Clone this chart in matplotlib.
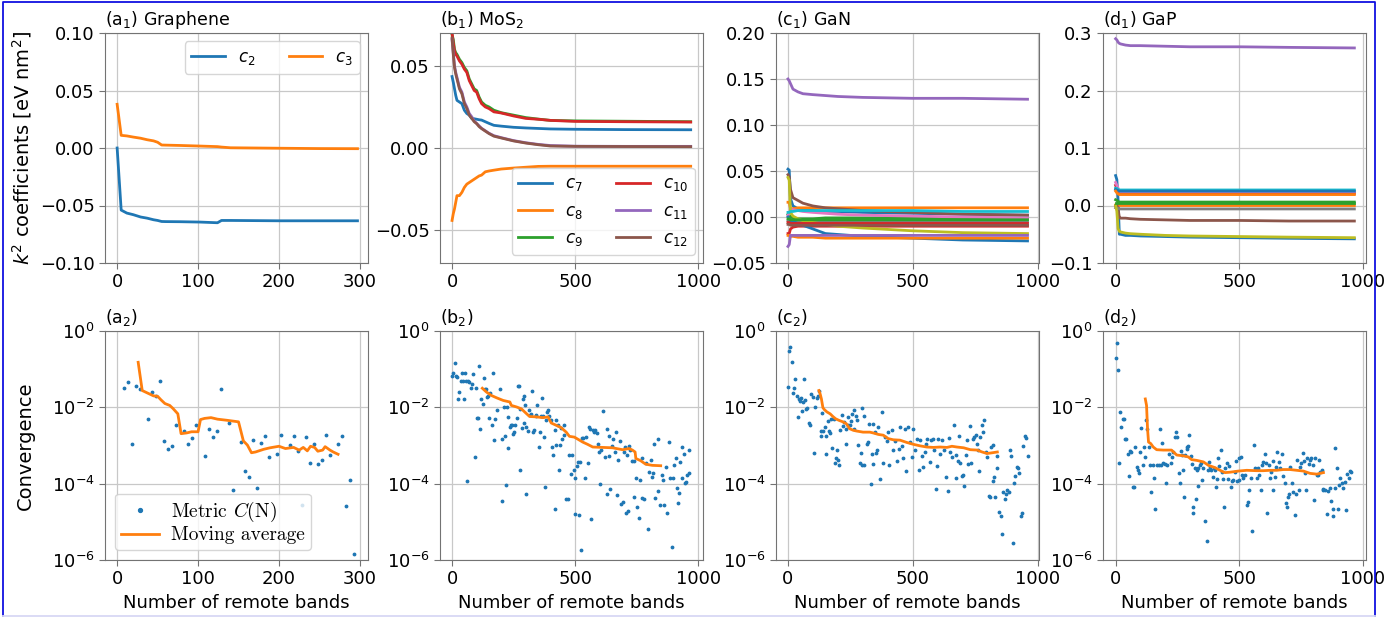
import matplotlib.pyplot as plt
import numpy as np
from matplotlib.font_manager import FontProperties
from matplotlib.lines import Line2D
from matplotlib.ticker import NullLocator

# ---------------- top row: k^2 coefficients ----------------
gr_n = [0, 5, 12, 20, 29, 37, 45, 50, 55, 60, 78, 102, 124, 129, 140, 200, 250, 297]
gr_c2 = [0.000, -0.054, -0.0566, -0.058, -0.060, -0.061, -0.0624, -0.063, -0.0639, -0.064,
         -0.0641, -0.0644, -0.065, -0.063, -0.063, -0.0633, -0.0633, -0.0633]
gr_c3 = [0.038, 0.011, 0.0105, 0.0095, 0.0085, 0.0072, 0.0062, 0.005, 0.0026, 0.0025,
         0.0022, 0.0017, 0.0012, 0.0008, 0.0002, -0.0002, -0.0005, -0.0006]

mos_n = [0, 5, 10, 15, 20, 30, 40, 50, 60, 70, 80, 90, 100, 110, 120, 135, 150, 170,
         200, 250, 300, 350, 400, 500, 700, 970]
mos_c7 = [0.0435, 0.040, 0.036, 0.032, 0.029, 0.028, 0.027, 0.023, 0.021, 0.020, 0.018,
          0.0178, 0.0175, 0.0172, 0.017, 0.016, 0.015, 0.0138, 0.0133, 0.0126, 0.0122,
          0.0119, 0.0116, 0.0114, 0.0112, 0.0111]
mos_c8 = [-0.0441, -0.040, -0.037, -0.033, -0.029, -0.029, -0.027, -0.024, -0.022, -0.021,
          -0.020, -0.019, -0.018, -0.017, -0.0165, -0.0145, -0.014, -0.0135, -0.0128,
          -0.0122, -0.0117, -0.0112, -0.0111, -0.0111, -0.0111, -0.0111]
mos_c9 = [0.069, 0.066, 0.060, 0.058, 0.057, 0.054, 0.052, 0.049, 0.047, 0.042, 0.039,
          0.036, 0.035, 0.031, 0.028, 0.026, 0.025, 0.023, 0.0215, 0.020, 0.0185, 0.0176,
          0.0168, 0.0165, 0.0163, 0.016]
mos_c10 = [0.070, 0.064, 0.059, 0.057, 0.056, 0.053, 0.051, 0.048, 0.046, 0.041, 0.038,
           0.035, 0.034, 0.030, 0.027, 0.025, 0.024, 0.022, 0.0213, 0.0195, 0.018, 0.0175,
           0.0168, 0.0162, 0.016, 0.0158]
mos_c11 = [0.066, 0.058, 0.050, 0.046, 0.043, 0.037, 0.034, 0.028, 0.025, 0.021, 0.019,
           0.0165, 0.015, 0.0135, 0.012, 0.0105, 0.009, 0.0075, 0.0063, 0.0045, 0.0032,
           0.0022, 0.0015, 0.0011, 0.001, 0.001]
mos_c12 = [0.067, 0.057, 0.049, 0.045, 0.042, 0.036, 0.033, 0.027, 0.024, 0.020, 0.018,
           0.016, 0.0148, 0.013, 0.0118, 0.0103, 0.0088, 0.0072, 0.0061, 0.0043, 0.003,
           0.002, 0.0012, 0.001, 0.0009, 0.0008]

gan_n = [0, 5, 10, 20, 40, 60, 100, 150, 200, 300, 500, 700, 960]
gan_coeffs = [
    [0.052, 0.051, 0.020, 0.012, 0.009, 0.008, 0.007, 0.006, 0.006, 0.005, 0.004, 0.003, 0.002],
    [0.016, 0.016, 0.009, 0.009, 0.010, 0.010, 0.010, 0.010, 0.010, 0.010, 0.010, 0.010, 0.010],
    [0.003, 0.002, 0.000, -0.001, -0.002, -0.002, -0.002, -0.001, -0.001, -0.001, -0.001, -0.001, -0.001],
    [-0.018, -0.018, -0.013, -0.011, -0.010, -0.010, -0.010, -0.010, -0.010, -0.010, -0.010, -0.010, -0.010],
    [0.150, 0.148, 0.145, 0.139, 0.136, 0.134, 0.133, 0.132, 0.131, 0.130, 0.129, 0.129, 0.128],
    [0.046, 0.044, 0.030, 0.021, 0.018, 0.015, 0.012, 0.010, 0.009, 0.007, 0.005, 0.003, 0.002],
    [0.002, 0.004, 0.008, 0.008, 0.007, 0.006, 0.005, 0.004, 0.003, 0.002, 0.001, 0.000, -0.001],
    [-0.004, -0.004, -0.005, -0.005, -0.005, -0.005, -0.005, -0.005, -0.005, -0.005, -0.005, -0.005, -0.005],
    [0.043, 0.040, 0.005, 0.001, -0.002, -0.004, -0.006, -0.008, -0.010, -0.012, -0.015, -0.017, -0.018],
    [0.005, 0.005, 0.006, 0.006, 0.007, 0.007, 0.007, 0.007, 0.007, 0.007, 0.007, 0.006, 0.006],
    [0.000, -0.002, -0.004, -0.005, -0.007, -0.009, -0.013, -0.018, -0.019, -0.021, -0.023, -0.025, -0.026],
    [-0.020, -0.020, -0.021, -0.021, -0.022, -0.022, -0.022, -0.023, -0.023, -0.023, -0.023, -0.023, -0.023],
    [-0.002, -0.002, -0.003, -0.003, -0.003, -0.003, -0.003, -0.003, -0.003, -0.003, -0.003, -0.003, -0.003],
    [-0.006, -0.006, -0.007, -0.007, -0.007, -0.007, -0.007, -0.007, -0.007, -0.007, -0.007, -0.007, -0.007],
    [-0.032, -0.030, -0.020, -0.020, -0.020, -0.020, -0.020, -0.020, -0.020, -0.020, -0.020, -0.020, -0.020],
    [-0.008, -0.008, -0.009, -0.009, -0.009, -0.009, -0.009, -0.009, -0.009, -0.009, -0.009, -0.009, -0.009],
]

gap_n = [0, 5, 10, 15, 20, 40, 60, 100, 200, 300, 500, 700, 965]
gap_coeffs = [
    [0.052, 0.045, 0.010, -0.050, -0.050, -0.052, -0.052, -0.053, -0.054, -0.055, -0.056, -0.057, -0.058],
    [0.001, 0.000, 0.000, 0.000, 0.000, 0.000, 0.000, 0.000, 0.000, 0.000, 0.000, 0.000, 0.000],
    [0.010, 0.009, 0.007, 0.006, 0.006, 0.006, 0.006, 0.006, 0.006, 0.006, 0.006, 0.006, 0.006],
    [0.035, 0.030, 0.025, 0.022, 0.021, 0.021, 0.021, 0.021, 0.021, 0.021, 0.021, 0.021, 0.021],
    [0.290, 0.288, 0.284, 0.282, 0.281, 0.279, 0.278, 0.278, 0.277, 0.276, 0.276, 0.275, 0.274],
    [0.000, 0.000, -0.005, -0.021, -0.022, -0.022, -0.023, -0.024, -0.025, -0.026, -0.026, -0.027, -0.027],
    [0.040, 0.035, 0.030, 0.025, 0.024, 0.024, 0.024, 0.024, 0.024, 0.024, 0.024, 0.024, 0.024],
    [-0.004, -0.005, -0.005, -0.006, -0.006, -0.006, -0.006, -0.006, -0.006, -0.006, -0.006, -0.006, -0.006],
    [0.000, -0.010, -0.040, -0.045, -0.046, -0.048, -0.049, -0.050, -0.052, -0.053, -0.054, -0.055, -0.056],
    [0.030, 0.030, 0.028, 0.027, 0.027, 0.027, 0.027, 0.027, 0.027, 0.027, 0.027, 0.027, 0.027],
    [0.028, 0.027, 0.026, 0.025, 0.025, 0.025, 0.025, 0.025, 0.025, 0.025, 0.025, 0.025, 0.025],
    [0.025, 0.022, 0.020, 0.019, 0.019, 0.019, 0.019, 0.019, 0.019, 0.019, 0.019, 0.019, 0.019],
    [0.004, 0.004, 0.004, 0.004, 0.004, 0.004, 0.004, 0.004, 0.004, 0.004, 0.004, 0.004, 0.004],
]

# ---------------- bottom row: convergence metric, (N, log10 C) ----------------
gr_conv = [(8, -1.49), (13, -1.34), (18, -2.95), (23, -1.43), (28, -1.51), (38, -2.31),
           (43, -1.60), (48, -1.70), (53, -1.30), (58, -2.89), (63, -3.10), (68, -3.01),
           (73, -2.47), (83, -2.62), (88, -2.95), (93, -2.80), (98, -2.47), (108, -3.28),
           (113, -2.58), (118, -2.78), (123, -2.62), (128, -1.53), (138, -2.41), (143, -4.17),
           (153, -2.92), (158, -3.67), (163, -3.82), (168, -2.85), (173, -4.12), (178, -2.94),
           (183, -2.74), (188, -3.30), (198, -3.22), (203, -2.72), (213, -2.99), (218, -2.76),
           (223, -3.14), (228, -4.56), (233, -2.78), (238, -3.45), (243, -2.95), (248, -3.49),
           (253, -3.37), (258, -2.72), (263, -3.26), (273, -2.97), (278, -2.75), (283, -4.58),
           (288, -3.90), (293, -5.83)]
gr_avg = [(26, -0.82), (31, -1.56), (39, -1.64), (45, -1.70), (50, -1.71), (54, -1.80),
          (59, -1.90), (65, -1.95), (69, -2.03), (75, -2.17), (79, -2.69), (86, -2.67),
          (92, -2.64), (100, -2.64), (103, -2.32), (108, -2.29), (116, -2.27), (124, -2.31),
          (136, -2.34), (150, -2.38), (156, -2.88), (161, -2.99), (166, -3.19), (171, -3.17),
          (181, -3.10), (189, -3.06), (200, -3.02), (208, -3.08), (218, -3.05), (225, -3.12),
          (230, -3.05), (235, -3.14), (239, -3.02), (244, -3.05), (248, -3.15), (254, -3.12),
          (257, -3.03), (263, -3.12), (267, -3.17), (273, -3.23)]

mos_conv = [(0, -1.17), (5, -1.10), (11, -0.84), (16, -1.18), (22, -1.21), (24, -1.78),
            (30, -1.60), (35, -1.32), (40, -1.11), (43, -1.30), (49, -1.78), (53, -1.11),
            (57, -1.30), (59, -3.92), (65, -1.31), (70, -1.34), (75, -1.49), (81, -1.40),
            (86, -1.12), (92, -3.30), (97, -1.49), (100, -2.27), (105, -2.27), (111, -0.93),
            (113, -2.58), (119, -1.78), (124, -1.91), (129, -1.24), (133, -1.53), (137, -1.51),
            (143, -1.73), (147, -1.71), (151, -2.27), (156, -1.62), (162, -2.45), (166, -1.10),
            (170, -2.86), (174, -2.30), (181, -2.08), (194, -1.53), (201, -4.46), (205, -2.82),
            (210, -1.99), (216, -2.76), (218, -4.04), (224, -1.98), (228, -2.25), (229, -3.06),
            (235, -2.52), (240, -2.45), (245, -2.47), (248, -2.69), (251, -2.64), (256, -2.47),
            (262, -2.27), (267, -1.45), (271, -1.45), (275, -3.63), (278, -2.04), (283, -2.53),
            (288, -1.79), (291, -1.69), (294, -2.41), (297, -1.93), (299, -4.28), (302, -2.52),
            (307, -2.63), (313, -2.06), (315, -2.21), (321, -2.18), (326, -1.58), (329, -2.64),
            (334, -2.60), (340, -2.24), (342, -2.21), (346, -1.93), (353, -3.05), (356, -2.65),
            (361, -2.24), (367, -1.75), (369, -2.24), (372, -2.78), (377, -4.10), (380, -2.32),
            (386, -2.12), (391, -2.08), (396, -2.24), (403, -2.34), (407, -3.04), (410, -3.25),
            (417, -4.66), (418, -2.60), (421, -2.32), (423, -2.99), (430, -2.45), (434, -3.63),
            (437, -2.99), (442, -2.53), (448, -2.82), (453, -2.72), (457, -2.46), (464, -4.39),
            (470, -4.39), (477, -3.25), (484, -3.75), (489, -3.25), (495, -3.65), (500, -3.86),
            (501, -4.79), (507, -3.54), (512, -3.42), (518, -4.83), (520, -3.43), (523, -5.73),
            (528, -2.80), (534, -2.81), (539, -3.84), (545, -2.78), (553, -3.45), (555, -2.52),
            (561, -2.58), (566, -4.92), (572, -2.60), (576, -2.65), (582, -2.60), (588, -2.66),
            (593, -2.95), (599, -3.17), (601, -4.01), (607, -3.12), (612, -2.10), (623, -3.30),
            (628, -2.57), (631, -4.28), (636, -3.28), (639, -2.76), (644, -4.14), (650, -3.02),
            (655, -2.82), (661, -3.17), (666, -2.65), (669, -4.30), (674, -3.39), (682, -2.89),
            (686, -4.52), (693, -4.47), (698, -3.18), (701, -3.04), (706, -4.76), (710, -3.25),
            (714, -4.71), (720, -3.02), (725, -3.11), (733, -3.40), (740, -3.40), (741, -4.36),
            (747, -3.86), (752, -4.60), (760, -4.90), (763, -3.91), (771, -4.37), (774, -3.34),
            (779, -4.39), (787, -3.47), (795, -5.19), (799, -3.69), (809, -3.37), (811, -3.82),
            (817, -3.72), (822, -2.95), (826, -4.37), (836, -2.82), (838, -4.19), (844, -4.56),
            (852, -3.78), (857, -3.91), (863, -4.56), (868, -3.56), (873, -4.78), (882, -2.91),
            (887, -3.86), (892, -5.66), (898, -3.85), (903, -3.52), (909, -3.34), (914, -4.12),
            (919, -4.50), (922, -4.24), (927, -3.43), (933, -3.04), (935, -3.84), (941, -3.23),
            (946, -3.98), (952, -3.95), (956, -3.76), (962, -3.12), (965, -3.72)]
mos_avg = [(123, -1.50), (140, -1.60), (160, -1.69), (181, -1.75), (208, -1.82), (235, -1.86),
           (241, -1.95), (262, -1.99), (282, -2.04), (295, -2.12), (315, -2.24), (342, -2.25),
           (369, -2.27), (390, -2.25), (403, -2.41), (423, -2.47), (443, -2.53), (464, -2.65),
           (477, -2.76), (497, -2.78), (518, -2.86), (531, -2.91), (551, -2.97), (572, -3.04),
           (612, -3.05), (652, -3.06), (693, -3.11), (720, -3.08), (733, -3.12), (744, -3.17),
           (747, -3.34), (767, -3.40), (787, -3.49), (814, -3.52), (848, -3.53)]

gan_conv = [(0, -1.47), (3, -0.53), (8, -0.43), (15, -0.80), (22, -1.63), (26, -1.50),
            (30, -1.25), (35, -1.71), (40, -2.25), (43, -1.78), (48, -1.84), (54, -1.75),
            (58, -2.10), (62, -1.86), (66, -1.27), (70, -1.82), (73, -2.05), (78, -2.03),
            (83, -2.40), (89, -2.45), (94, -1.65), (99, -1.73), (105, -3.19), (110, -1.99),
            (116, -1.75), (121, -1.69), (126, -1.56), (132, -2.63), (134, -2.76), (138, -2.15),
            (142, -2.63), (148, -2.52), (151, -3.21), (153, -2.76), (159, -2.37), (164, -2.63),
            (167, -2.67), (172, -2.30), (177, -3.06), (183, -2.30), (188, -3.45), (191, -3.32),
            (195, -3.12), (199, -3.39), (204, -3.50), (210, -2.60), (215, -2.19), (220, -2.50),
            (226, -2.38), (231, -2.95), (234, -2.56), (239, -2.47), (242, -2.25), (247, -2.47),
            (253, -2.37), (258, -2.17), (263, -2.08), (266, -2.58), (271, -2.24), (277, -2.34),
            (282, -2.99), (288, -3.45), (293, -3.19), (296, -2.02), (298, -3.50), (304, -2.24),
            (306, -3.52), (315, -2.95), (320, -2.92), (325, -2.43), (331, -4.02), (335, -3.21),
            (339, -2.43), (341, -3.49), (347, -2.65), (352, -3.19), (355, -3.12), (362, -2.52),
            (368, -3.89), (375, -2.12), (382, -3.45), (388, -2.78), (395, -2.89), (402, -2.65),
            (406, -3.52), (415, -2.60), (422, -3.11), (429, -2.88), (435, -3.40), (444, -3.08),
            (449, -2.52), (456, -3.02), (462, -3.34), (468, -2.56), (473, -3.68), (481, -2.52),
            (489, -2.91), (496, -3.30), (503, -2.56), (509, -3.12), (516, -2.82), (527, -3.65),
            (530, -2.85), (538, -3.28), (543, -3.56), (548, -3.17), (554, -2.95), (559, -2.82),
            (570, -3.43), (575, -2.85), (581, -2.82), (586, -3.12), (594, -4.14), (597, -3.54),
            (602, -2.82), (610, -3.21), (618, -2.86), (624, -3.12), (634, -3.82), (640, -4.18),
            (645, -2.80), (650, -3.17), (656, -3.30), (664, -2.47), (672, -3.24), (675, -3.86),
            (680, -3.41), (684, -2.76), (691, -3.47), (696, -3.80), (702, -3.76), (707, -4.06),
            (712, -3.24), (718, -2.85), (723, -3.49), (728, -2.50), (734, -3.47), (742, -2.82),
            (747, -2.78), (753, -2.73), (758, -2.95), (763, -3.11), (766, -3.67), (771, -2.78),
            (778, -2.47), (782, -2.64), (785, -2.32), (792, -3.17), (796, -3.30), (804, -4.32),
            (809, -4.34), (814, -3.05), (820, -2.98), (823, -3.92), (825, -3.82), (831, -4.34),
            (836, -3.27), (839, -3.59), (847, -4.73), (855, -4.86), (859, -5.32), (863, -4.21),
            (868, -4.40), (874, -4.28), (879, -4.17), (884, -4.21), (890, -3.11), (895, -3.27),
            (900, -5.56), (906, -3.99), (911, -3.79), (917, -3.56), (922, -3.59), (927, -3.72),
            (933, -4.85), (938, -4.76), (943, -3.02), (949, -2.76), (954, -2.80), (960, -3.28)]
gan_avg = [(124, -1.56), (129, -1.65), (134, -1.78), (140, -2.01), (146, -2.06), (156, -2.12),
           (169, -2.17), (180, -2.24), (191, -2.30), (204, -2.34), (220, -2.38), (234, -2.43),
           (247, -2.56), (261, -2.60), (274, -2.62), (301, -2.65), (328, -2.65), (341, -2.67),
           (362, -2.71), (382, -2.73), (402, -2.82), (422, -2.85), (449, -2.86), (476, -2.92),
           (503, -2.97), (530, -3.01), (556, -3.04), (583, -3.05), (610, -3.04), (637, -3.05),
           (657, -3.02), (677, -3.04), (704, -3.06), (731, -3.11), (758, -3.12), (778, -3.17),
           (798, -3.21), (819, -3.19), (839, -3.17)]

gap_conv = [(0, -0.71), (4, -0.32), (8, -1.02), (13, -3.47), (18, -2.12), (23, -2.52),
            (28, -2.30), (34, -2.30), (38, -2.82), (43, -2.82), (49, -3.23), (53, -3.79),
            (58, -3.14), (63, -3.17), (71, -4.08), (75, -4.08), (80, -3.05), (85, -3.56),
            (89, -3.65), (93, -3.73), (98, -3.17), (104, -2.54), (109, -3.52), (115, -3.04),
            (120, -3.30), (124, -2.32), (128, -2.58), (133, -3.04), (139, -3.52), (144, -4.21),
            (150, -3.50), (155, -3.86), (160, -4.67), (166, -3.52), (174, -3.52), (179, -2.58),
            (182, -3.52), (187, -2.93), (193, -3.45), (198, -3.49), (204, -3.99), (209, -3.52),
            (217, -3.21), (222, -3.47), (228, -3.30), (233, -3.17), (239, -2.78), (244, -2.65),
            (249, -2.78), (255, -3.73), (260, -3.98), (264, -3.15), (268, -3.25), (274, -3.65),
            (278, -4.36), (282, -3.25), (287, -3.04), (290, -3.08), (294, -3.01), (298, -2.73),
            (303, -3.27), (309, -3.49), (311, -4.62), (314, -4.78), (319, -3.60), (325, -4.39),
            (328, -3.65), (332, -4.05), (334, -3.60), (341, -3.52), (346, -3.47), (350, -3.91),
            (355, -3.58), (363, -4.99), (368, -5.49), (373, -3.63), (376, -3.43), (381, -3.56),
            (387, -3.65), (392, -3.82), (396, -3.60), (402, -3.65), (406, -4.08), (411, -3.89),
            (415, -3.34), (419, -3.54), (425, -3.12), (430, -3.69), (435, -3.89), (438, -4.60),
            (443, -3.60), (449, -3.47), (454, -3.89), (460, -3.54), (465, -4.08), (470, -3.92),
            (476, -3.91), (481, -3.69), (487, -3.40), (492, -3.92), (497, -3.32), (500, -3.91),
            (507, -3.30), (511, -3.78), (516, -3.86), (523, -3.78), (530, -4.56), (535, -4.47),
            (541, -4.17), (546, -3.86), (553, -5.24), (559, -2.98), (565, -3.60), (570, -3.86),
            (576, -3.60), (581, -3.78), (589, -4.17), (592, -3.52), (597, -3.43), (603, -3.23),
            (607, -3.47), (613, -4.76), (619, -3.52), (624, -3.86), (630, -3.69), (635, -4.17),
            (638, -3.41), (643, -3.82), (648, -3.56), (654, -3.17), (659, -3.43), (665, -3.60),
            (673, -3.21), (678, -3.80), (683, -3.98), (689, -4.50), (693, -4.60), (696, -4.34),
            (700, -4.28), (705, -3.56), (713, -3.98), (718, -4.21), (724, -4.82), (729, -4.26),
            (735, -3.39), (740, -4.17), (745, -3.56), (751, -3.47), (756, -3.19), (762, -3.40),
            (766, -3.73), (770, -4.17), (775, -3.34), (780, -3.49), (786, -3.39), (791, -3.34),
            (797, -3.52), (801, -4.43), (807, -3.32), (813, -3.78), (818, -3.78), (824, -3.37),
            (828, -3.69), (833, -3.65), (837, -4.15), (840, -4.17), (845, -4.17), (853, -4.79),
            (859, -4.19), (867, -4.11), (872, -4.45), (878, -4.86), (880, -4.67), (886, -4.12),
            (888, -3.06), (894, -3.60), (899, -4.66), (902, -4.04), (907, -3.86), (913, -3.99),
            (918, -4.12), (926, -3.95), (931, -4.69), (937, -3.75), (942, -3.86), (948, -3.66),
            (953, -3.69)]
gap_avg = [(120, -1.78), (125, -1.95), (129, -2.56), (133, -2.91), (142, -2.95), (152, -3.04),
           (166, -3.11), (193, -3.12), (226, -3.12), (247, -3.25), (274, -3.27), (294, -3.30),
           (307, -3.37), (328, -3.39), (355, -3.43), (375, -3.52), (402, -3.58), (422, -3.65),
           (442, -3.71), (462, -3.70), (496, -3.67), (530, -3.65), (570, -3.66), (597, -3.66),
           (624, -3.65), (651, -3.65), (678, -3.63), (705, -3.63), (732, -3.65), (759, -3.67),
           (786, -3.73), (813, -3.75), (840, -3.71)]

top_titles = [r'(a$_1$) Graphene', r'(b$_1$) MoS$_2$', r'(c$_1$) GaN', r'(d$_1$) GaP']
bottom_titles = [r'(a$_2$)', r'(b$_2$)', r'(c$_2$)', r'(d$_2$)']
col_xlims = [(-15, 310), (-49, 1020), (-48, 1006), (-51, 1012)]
col_xticks = [[0, 100, 200, 300], [0, 500, 1000], [0, 500, 1000], [0, 500, 1000]]

W, H = 1396, 618
col_left = [105, 440, 776, 1103]
ax_w = 263
spine_grey = '0.45'


def style(ax):
    ax.grid(True, color='#c8c8c8', lw=0.9)
    ax.set_axisbelow(True)
    for s in ax.spines.values():
        s.set_color(spine_grey)
    ax.tick_params(labelsize=13, color=spine_grey, length=4)


def as_arrays(pairs):
    arr = np.array(pairs, dtype=float)
    return arr[:, 0], 10.0 ** arr[:, 1]


def main():
    fig = plt.figure(figsize=(W / 100, H / 100), dpi=100)

    top_axes, bot_axes = [], []
    for left in col_left:
        top_axes.append(fig.add_axes([left / W, 1 - 263 / H, ax_w / W, 230 / H]))
        bot_axes.append(fig.add_axes([left / W, 1 - 560 / H, ax_w / W, 229 / H]))

    # graphene
    ax = top_axes[0]
    ax.plot(gr_n, gr_c2, lw=2, label=r'$c_2$')
    ax.plot(gr_n, gr_c3, lw=2, label=r'$c_3$')
    ax.set_ylim(-0.1, 0.1)
    ax.set_yticks([-0.1, -0.05, 0, 0.05, 0.1])
    ax.legend(ncol=2, loc='upper right', fontsize=12)
    ax.set_ylabel(r'$k^2$ coefficients [eV nm$^2$]', fontsize=14)

    # MoS2
    ax = top_axes[1]
    for vals, name in zip([mos_c7, mos_c8, mos_c9, mos_c10, mos_c11, mos_c12],
                          ['c_7', 'c_8', 'c_9', 'c_{10}', 'c_{11}', 'c_{12}']):
        ax.plot(mos_n, vals, lw=2, label=f'${name}$')
    ax.set_ylim(-0.07, 0.07)
    ax.set_yticks([-0.05, 0, 0.05])
    ax.legend(ncol=2, loc='lower right', fontsize=12)

    # GaN
    ax = top_axes[2]
    for vals in gan_coeffs:
        ax.plot(gan_n, vals, lw=2)
    ax.set_ylim(-0.05, 0.2)
    ax.set_yticks([-0.05, 0, 0.05, 0.1, 0.15, 0.2])

    # GaP
    ax = top_axes[3]
    for vals in gap_coeffs:
        ax.plot(gap_n, vals, lw=2)
    ax.set_ylim(-0.1, 0.3)
    ax.set_yticks([-0.1, 0, 0.1, 0.2, 0.3])

    for ax, title, xl, xt in zip(top_axes, top_titles, col_xlims, col_xticks):
        style(ax)
        ax.set_title(title, loc='left', fontsize=12.5, pad=6)
        ax.set_xlim(*xl)
        ax.set_xticks(xt)

    # convergence panels
    legend_font = FontProperties(family='cmr10', size=14, math_fontfamily='cm')
    for i, (ax, conv, avg) in enumerate(zip(bot_axes, [gr_conv, mos_conv, gan_conv, gap_conv],
                                            [gr_avg, mos_avg, gan_avg, gap_avg])):
        n, c = as_arrays(conv)
        ax.plot(n, c, '.', ms=3.5, color='C0', label=r'Metric $C$(N)')
        n, c = as_arrays(avg)
        ax.plot(n, c, lw=2, color='C1', label='Moving average')
        ax.set_yscale('log')
        ax.set_ylim(1e-6, 1)
        ax.set_yticks([1e-6, 1e-4, 1e-2, 1])
        ax.yaxis.set_minor_locator(NullLocator())
        ax.set_xlim(*col_xlims[i])
        ax.set_xticks(col_xticks[i])
        style(ax)
        ax.set_title(bottom_titles[i], loc='left', fontsize=12.5, pad=6)
        ax.set_xlabel('Number of remote bands', fontsize=13)

    bot_axes[0].set_ylabel('Convergence', fontsize=14, labelpad=12)
    bot_axes[0].legend(loc='lower left', prop=legend_font, markerscale=1.6,
                       labelspacing=0.15, borderpad=0.3, handletextpad=0.6)

    # blue frame around the figure
    x0, x1 = 3 / W, 1375 / W
    y0, y1 = 1 - 616 / H, 1 - 2 / H
    fig.add_artist(Line2D([x0, x0, x1, x1], [y0, y1, y1, y0], transform=fig.transFigure,
                          color='#1010e0', lw=1.3))
    fig.add_artist(Line2D([x0, x1], [y0, y0], transform=fig.transFigure,
                          color='#d8d8f4', lw=1.3))

    fig.savefig('out.png', dpi=100)


if __name__ == '__main__':
    main()
